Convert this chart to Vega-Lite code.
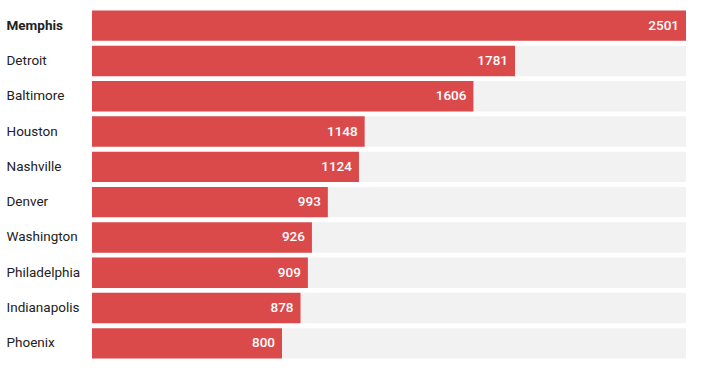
{
  "$schema": "https://vega.github.io/schema/vega-lite/v6.json",
  "width": 594,
  "height": 353,
  "autosize": {"type": "none"},
  "padding": {"left": 92, "top": 8, "right": 23, "bottom": 10},
  "background": "#ffffff",
  "config": {"view": {"stroke": null}, "font": "Roboto"},
  "data": {"values": [
    {"city": "Memphis", "value": 2501, "max": 2501},
    {"city": "Detroit", "value": 1781, "max": 2501},
    {"city": "Baltimore", "value": 1606, "max": 2501},
    {"city": "Houston", "value": 1148, "max": 2501},
    {"city": "Nashville", "value": 1124, "max": 2501},
    {"city": "Denver", "value": 993, "max": 2501},
    {"city": "Washington", "value": 926, "max": 2501},
    {"city": "Philadelphia", "value": 909, "max": 2501},
    {"city": "Indianapolis", "value": 878, "max": 2501},
    {"city": "Phoenix", "value": 800, "max": 2501}
  ]},
  "encoding": {
    "y": {
      "field": "city", "type": "nominal", "sort": null, "title": null,
      "scale": {"paddingInner": 0.14, "paddingOuter": 0.07},
      "axis": {
        "domain": false, "ticks": false, "labelAlign": "left", "labelPadding": 86,
        "labelFont": "Roboto", "labelFontSize": 13.5, "labelColor": "#222222",
        "labelFontWeight": {"condition": {"test": "datum.value == 'Memphis'", "value": "bold"}, "value": "normal"}
      }
    }
  },
  "layer": [
    {
      "mark": {"type": "bar", "color": "#f2f2f2"},
      "encoding": {"x": {"field": "max", "type": "quantitative", "scale": {"domain": [0, 2501], "nice": false}, "axis": null}}
    },
    {
      "mark": {"type": "bar", "color": "#db4a4b"},
      "encoding": {"x": {"field": "value", "type": "quantitative"}}
    },
    {
      "mark": {"type": "text", "align": "right", "dx": -7, "color": "#ffffff", "font": "Roboto", "fontSize": 13.5, "fontWeight": 500},
      "encoding": {"x": {"field": "value", "type": "quantitative"}, "text": {"field": "value", "type": "quantitative", "format": "d"}}
    }
  ]
}
